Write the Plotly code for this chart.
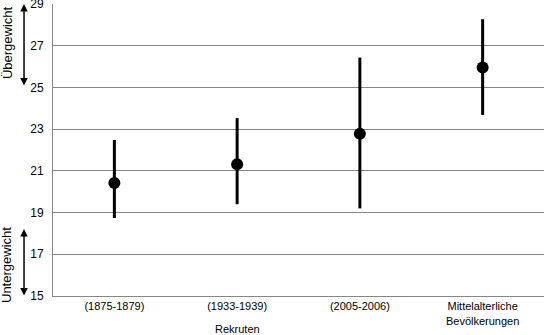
import plotly.graph_objects as go

categories = ["(1875-1879)", "(1933-1939)", "(2005-2006)", "Mittelalterliche<br>Bevölkerungen"]
means = [20.42, 21.32, 22.78, 25.96]
upper = [22.48, 23.53, 26.43, 28.27]
lower = [18.74, 19.40, 19.20, 23.68]
y_ticks = [15, 17, 19, 21, 23, 25, 27, 29]

xs = list(range(len(categories)))
err_plus = [u - m for u, m in zip(upper, means)]
err_minus = [m - l for m, l in zip(means, lower)]

fig = go.Figure()
fig.add_trace(go.Scatter(
    x=xs, y=means, mode="markers",
    marker=dict(color="black", size=12),
    error_y=dict(type="data", symmetric=False, array=err_plus, arrayminus=err_minus,
                 color="black", thickness=3, width=0),
    showlegend=False, cliponaxis=False, hoverinfo="skip",
))

fam = "Liberation Sans, Arial, sans-serif"
font = dict(family=fam, size=11, color="black")
font12 = dict(family=fam, size=12, color="black")
font13 = dict(family=fam, size=13, color="black")

fig.update_layout(
    width=545, height=335,
    margin=dict(l=53, r=1, t=4, b=39, autoexpand=False),
    plot_bgcolor="white", paper_bgcolor="white",
    font=font,
    xaxis=dict(range=[-0.5, 3.5], tickvals=xs, ticktext=categories, showgrid=False,
               showline=True, linecolor="#868686", linewidth=1, ticks="", zeroline=False,
               tickfont=font, automargin=False),
    yaxis=dict(range=[15, 29], tickvals=y_ticks, showgrid=True, gridcolor="#868686",
               gridwidth=1, showline=True, linecolor="#868686", linewidth=1, ticks="",
               zeroline=False, tickfont=font12, ticklabelstandoff=6, automargin=False,
               ticklabeloverflow="allow"),
    annotations=[
        dict(text="Rekruten", x=1, y=-0.085, xref="x", yref="paper", showarrow=False,
             yanchor="top", font=font),
        dict(x=-0.059, y=29, xref="paper", yref="y", ax=0, ay=83, axref="pixel", ayref="pixel",
             showarrow=True, arrowside="end+start", arrowhead=2, arrowsize=1, arrowwidth=1.5,
             arrowcolor="black", text=""),
        dict(x=-0.059, y=18.21, xref="paper", yref="y", ax=0, ay=68, axref="pixel", ayref="pixel",
             showarrow=True, arrowside="end+start", arrowhead=2, arrowsize=1, arrowwidth=1.5,
             arrowcolor="black", text=""),
        dict(text="Übergewicht", x=-0.0935, y=27.13, xref="paper", yref="y", showarrow=False,
             textangle=-90, xanchor="center", yanchor="middle", font=font13),
        dict(text="Untergewicht", x=-0.0935, y=16.49, xref="paper", yref="y", showarrow=False,
             textangle=-90, xanchor="center", yanchor="middle", font=font13),
    ],
)

fig.write_html("out.html", config={"displayModeBar": False},
               post_script="document.body.style.margin='0';document.body.style.overflow='hidden';")
